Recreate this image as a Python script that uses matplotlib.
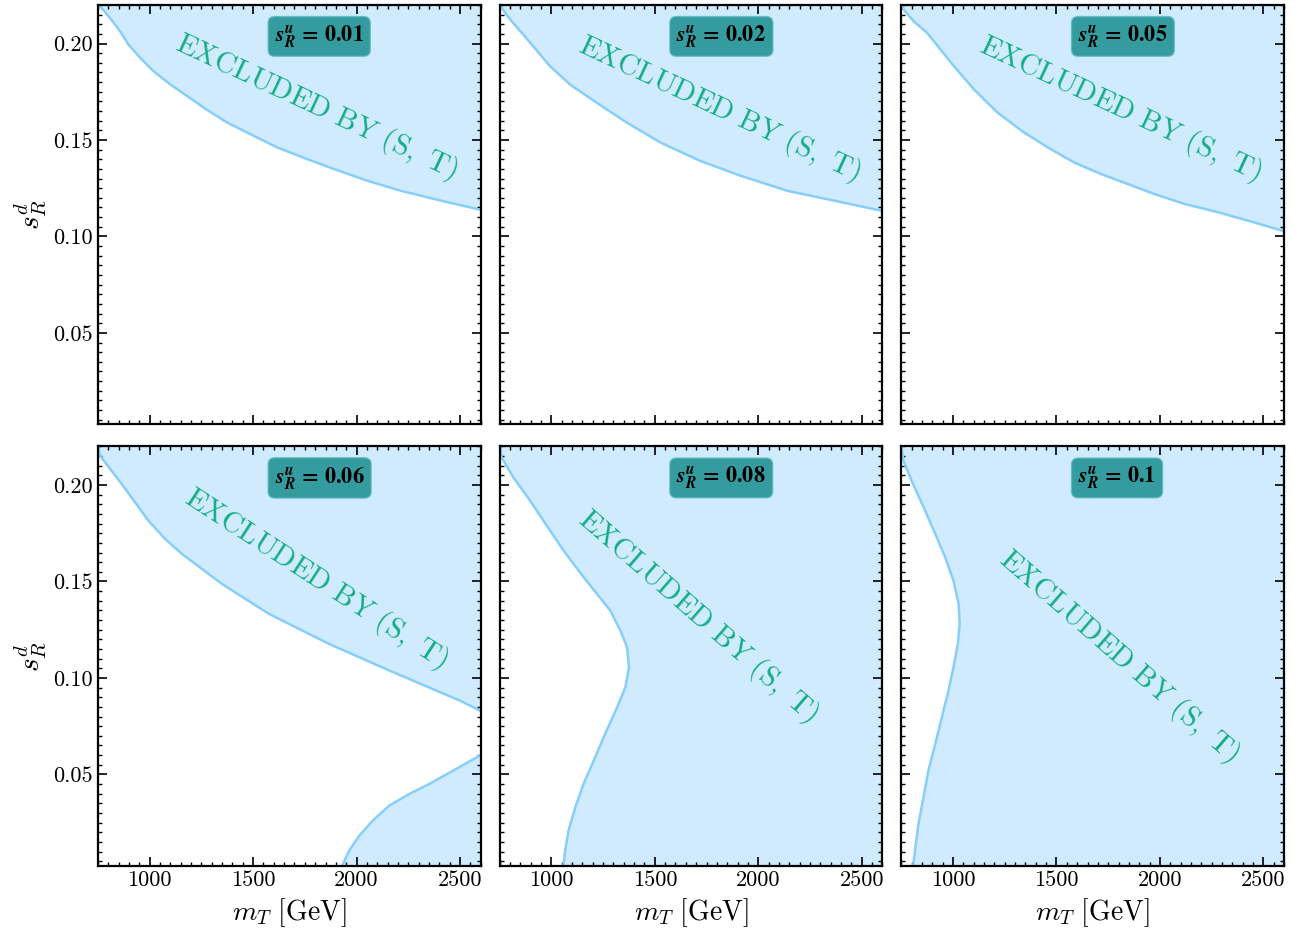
import matplotlib
matplotlib.use("Agg")
import matplotlib.pyplot as plt
from matplotlib.ticker import MultipleLocator, FormatStrFormatter

plt.rcParams['font.family'] = 'serif'
plt.rcParams['font.serif'] = ['cmr10']
plt.rcParams['mathtext.fontset'] = 'cm'
plt.rcParams['axes.formatter.use_mathtext'] = True

# s_R^u values of the six panels
su_values = ["0.01", "0.02", "0.05", "0.06", "0.08", "0.1"]

# boundary of the (S, T) excluded region
# panels 1-4: upper region, excluded above y(x)
p1_x = [750, 760, 808, 857, 897, 954, 1018, 1100, 1181, 1261, 1375, 1504, 1617, 1763, 1892,
        2054, 2216, 2410, 2600]
p1_y = [0.221, 0.2193, 0.2133, 0.2064, 0.1995, 0.1926, 0.1857, 0.1788, 0.1728, 0.1668, 0.159,
        0.1521, 0.1461, 0.140, 0.1349, 0.1288, 0.1236, 0.1185, 0.1138]

p2_x = [750, 766, 782, 815, 864, 912, 993, 1090, 1219, 1365, 1527, 1721, 1916, 2142, 2369, 2600]
p2_y = [0.221, 0.2176, 0.215, 0.2107, 0.2047, 0.1986, 0.1883, 0.1788, 0.1693, 0.159, 0.1487,
        0.1391, 0.1314, 0.1236, 0.1185, 0.1132]

p3_x = [750, 761, 810, 875, 939, 1004, 1101, 1215, 1344, 1473, 1586, 1716, 1846, 1975, 2120,
        2282, 2444, 2600]
p3_y = [0.221, 0.2176, 0.2115, 0.2055, 0.1969, 0.1883, 0.1762, 0.1642, 0.1538, 0.1452, 0.1383,
        0.1323, 0.1271, 0.1219, 0.1168, 0.1125, 0.1076, 0.1027]

p4_x = [750, 760, 816, 865, 930, 994, 1075, 1156, 1253, 1350, 1464, 1577, 1722, 1868, 2014,
        2159, 2273, 2386, 2499, 2600]
p4_y = [0.221, 0.2152, 0.2074, 0.2005, 0.191, 0.1815, 0.172, 0.1643, 0.1565, 0.1487, 0.1409,
        0.1332, 0.1254, 0.1176, 0.1107, 0.1038, 0.0986, 0.0934, 0.0883, 0.0829]

# panel 4: lower-right island, excluded below y(x)
p4b_x = [1930, 1965, 2014, 2079, 2159, 2256, 2353, 2483, 2600]
p4b_y = [0.0025, 0.0106, 0.0183, 0.0261, 0.0339, 0.0399, 0.0451, 0.0529, 0.060]

# panels 5-6: excluded right of x(y)
p5_y = [0.0025, 0.0106, 0.0209, 0.033, 0.0451, 0.0572, 0.0693, 0.0848, 0.0952, 0.1055, 0.1159,
        0.1245, 0.1349, 0.1435, 0.1522, 0.166, 0.1789, 0.1919, 0.204, 0.2143, 0.221]
p5_x = [1058, 1067, 1083, 1116, 1156, 1205, 1253, 1318, 1358, 1375, 1366, 1334, 1285, 1221,
        1156, 1059, 978, 897, 816, 760, 750]

p6_y = [0.0025, 0.0106, 0.0244, 0.0382, 0.052, 0.0658, 0.0797, 0.0934, 0.1056, 0.1176, 0.128,
        0.1384, 0.1504, 0.1625, 0.1746, 0.1867, 0.2022, 0.2126, 0.221]
p6_x = [807, 816, 833, 857, 881, 914, 946, 978, 1002, 1023, 1032, 1027, 1002, 962, 914, 865,
        800, 760, 750]

# label position / rotation of the "EXCLUDED" text
txt_x = [1808, 1813, 1808, 1803, 1706, 1803]
txt_y = [0.167, 0.166, 0.166, 0.1513, 0.132, 0.1114]
txt_rot = [-25, -25, -25, -33, -41, -41]

xmin, xmax = 750, 2600
ymin, ymax = 0.0025, 0.22

fill_c = 'lightskyblue'
fill_a = 0.4
line_c = 'lightskyblue'
text_c = '#14ad86'

fig, axes = plt.subplots(2, 3, figsize=(12.99, 9.35), dpi=100, sharex=True, sharey=True)
fig.subplots_adjust(left=0.0754, right=0.9885, bottom=0.0738, top=0.9947,
                    wspace=0.0496, hspace=0.0524)
axs = axes.ravel()

upper = [(p1_x, p1_y), (p2_x, p2_y), (p3_x, p3_y), (p4_x, p4_y)]
for i, (x, y) in enumerate(upper):
    ax = axs[i]
    ax.fill_between(x, y, ymax + 0.01, color=fill_c, alpha=fill_a, lw=0)
    ax.plot(x, y, color=line_c, lw=1.8)

axs[3].fill_between(p4b_x, ymin - 0.01, p4b_y, color=fill_c, alpha=fill_a, lw=0)
axs[3].plot(p4b_x, p4b_y, color=line_c, lw=1.8)

for ax, (x, y) in zip([axs[4], axs[5]], [(p5_x, p5_y), (p6_x, p6_y)]):
    ax.fill_betweenx(y, x, xmax + 100, color=fill_c, alpha=fill_a, lw=0)
    ax.plot(x, y, color=line_c, lw=1.8)

for i, ax in enumerate(axs):
    ax.set_xlim(xmin, xmax)
    ax.set_ylim(ymin, ymax)
    ax.text(txt_x[i], txt_y[i], r"$\mathrm{EXCLUDED\ BY\ (S,\ T)}$", color=text_c,
            fontsize=21, rotation=txt_rot[i], ha='center', va='center',
            rotation_mode='anchor')
    ax.text(0.462, 0.925,
            r"$\mathbfit{s}^{\mathbfit{u}}_{\mathbfit{R}}\mathbf{\,=\,%s}$" % su_values[i],
            transform=ax.transAxes, fontsize=16, ha='left', va='center',
            math_fontfamily='stix',
            bbox=dict(boxstyle='round,pad=0.3', facecolor='teal', edgecolor='#5fb8c0',
                      alpha=0.75))
    ax.xaxis.set_major_locator(MultipleLocator(500))
    ax.xaxis.set_minor_locator(MultipleLocator(50))
    ax.yaxis.set_major_locator(MultipleLocator(0.05))
    ax.yaxis.set_minor_locator(MultipleLocator(0.005))
    ax.yaxis.set_major_formatter(FormatStrFormatter('%.2f'))
    ax.xaxis.set_major_formatter(FormatStrFormatter('%d'))
    ax.tick_params(which='both', direction='in', top=True, right=True, labelsize=16)
    ax.tick_params(which='major', length=6.5, width=1.2)
    ax.tick_params(which='minor', length=3, width=1.0)
    for s in ax.spines.values():
        s.set_linewidth(1.6)

for ax in axes[1]:
    ax.set_xlabel(r"$m_T\ [\mathrm{GeV}]$", fontsize=20)
for ax in axes[:, 0]:
    ax.set_ylabel(r"$s_R^d$", fontsize=21)

fig.savefig("out.png", dpi=100)
